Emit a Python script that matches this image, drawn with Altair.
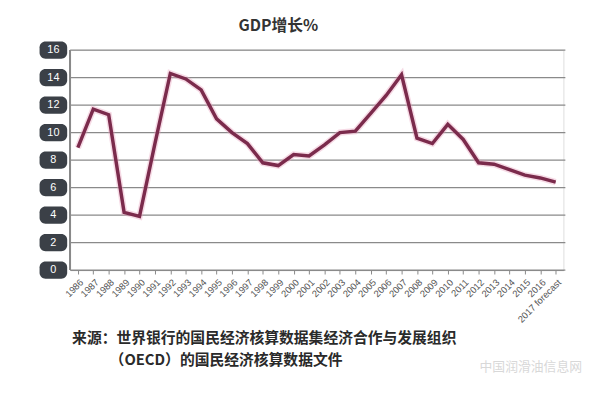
import altair as alt
import pandas as pd

years = [str(y) for y in range(1986, 2017)] + ["2017 forecast"]
growth = [8.9, 11.7, 11.3, 4.2, 3.9, 9.2, 14.3, 13.9, 13.1, 11.0, 10.0, 9.2,
          7.8, 7.6, 8.4, 8.3, 9.1, 10.0, 10.1, 11.4, 12.7, 14.2, 9.6, 9.2,
          10.6, 9.5, 7.8, 7.7, 7.3, 6.9, 6.7, 6.4]
yticks = [0, 2, 4, 6, 8, 10, 12, 14, 16]
title_text = "GDP增长%"
source_lines = ["来源：世界银行的国民经济核算数据集经济合作与发展组织",
                "（OECD）的国民经济核算数据文件"]

df = pd.DataFrame({"year": years, "gdp": growth})
ticks_df = pd.DataFrame({"v": yticks, "label": [str(t) for t in yticks]})

W, H = 500, 223

xenc = alt.X("year:O", sort=years,
             scale=alt.Scale(paddingOuter=0.5),
             axis=alt.Axis(title=None, labelAngle=-45, labelFontSize=9.5,
                           labelColor="#555555", labelFont="Liberation Sans",
                           tickColor="#888888", tickSize=4, domainColor="#888888",
                           labelPadding=3, grid=False))
yscale = alt.Scale(domain=[0, 16], nice=False)

grid = alt.Chart(ticks_df).mark_rule(color="#8a8a8a", strokeWidth=1.3).encode(
    y=alt.Y("v:Q", scale=yscale, axis=None),
    x=alt.value(0), x2=alt.value(W + 2))

leftaxis = alt.Chart(ticks_df).mark_rule(color="#8a8a8a", strokeWidth=1.2).encode(
    x=alt.value(0), y=alt.value(0), y2=alt.value(H))

boxes = alt.Chart(ticks_df).transform_calculate(
    lo="datum.v - 0.63", hi="datum.v + 0.63"
).mark_rect(color="#3b4047", cornerRadius=6, clip=False).encode(
    y=alt.Y("lo:Q", scale=yscale, axis=None), y2="hi:Q",
    x=alt.value(-31), x2=alt.value(-3))

labels = alt.Chart(ticks_df).mark_text(color="white", fontSize=11,
                                       font="Liberation Sans", align="center",
                                       baseline="middle").encode(
    y=alt.Y("v:Q", scale=yscale, axis=None), text="label:N",
    x=alt.value(-17))

halo = alt.Chart(df).mark_line(color="#e9a3bf", strokeWidth=6.5, opacity=0.4).encode(
    x=xenc, y=alt.Y("gdp:Q", scale=yscale, axis=None))
line = alt.Chart(df).mark_line(color="#7b2b4c", strokeWidth=3.5,
                               strokeJoin="miter").encode(
    x=xenc, y=alt.Y("gdp:Q", scale=yscale, axis=None))

src_df = pd.DataFrame({"t": source_lines, "xo": [2, 40], "yo": [292, 314]})
source = alt.Chart(src_df).mark_text(fontSize=15, font="Noto Sans CJK SC",
                                     fontWeight="bold", color="#2a2a2a",
                                     align="left", baseline="middle").encode(
    text="t:N", x=alt.X("xo:Q", scale=None), y=alt.Y("yo:Q", scale=None))

wm_df = pd.DataFrame({"t": ["中国润滑油信息网"]})
wm = alt.Chart(wm_df).mark_text(fontSize=13, font="Noto Sans CJK SC",
                                color="#d8d8d8", align="left",
                                baseline="middle").encode(
    text="t:N", x=alt.value(415), y=alt.value(321))

chart = alt.layer(grid, leftaxis, halo, line, boxes, labels, source, wm).properties(
    width=W, height=H,
    title=alt.TitleParams(title_text, fontSize=16, font="Noto Sans CJK SC",
                          color="#333333", fontWeight="bold", anchor="middle",
                          dx=-39, offset=8),
    padding={"left": 63, "top": 40, "right": 29, "bottom": 123},
    autosize=alt.AutoSizeParams(type="none"),
).configure_view(stroke=None).configure(background="white")

chart.save("out.html", embed_options={"renderer": "svg", "actions": False})
